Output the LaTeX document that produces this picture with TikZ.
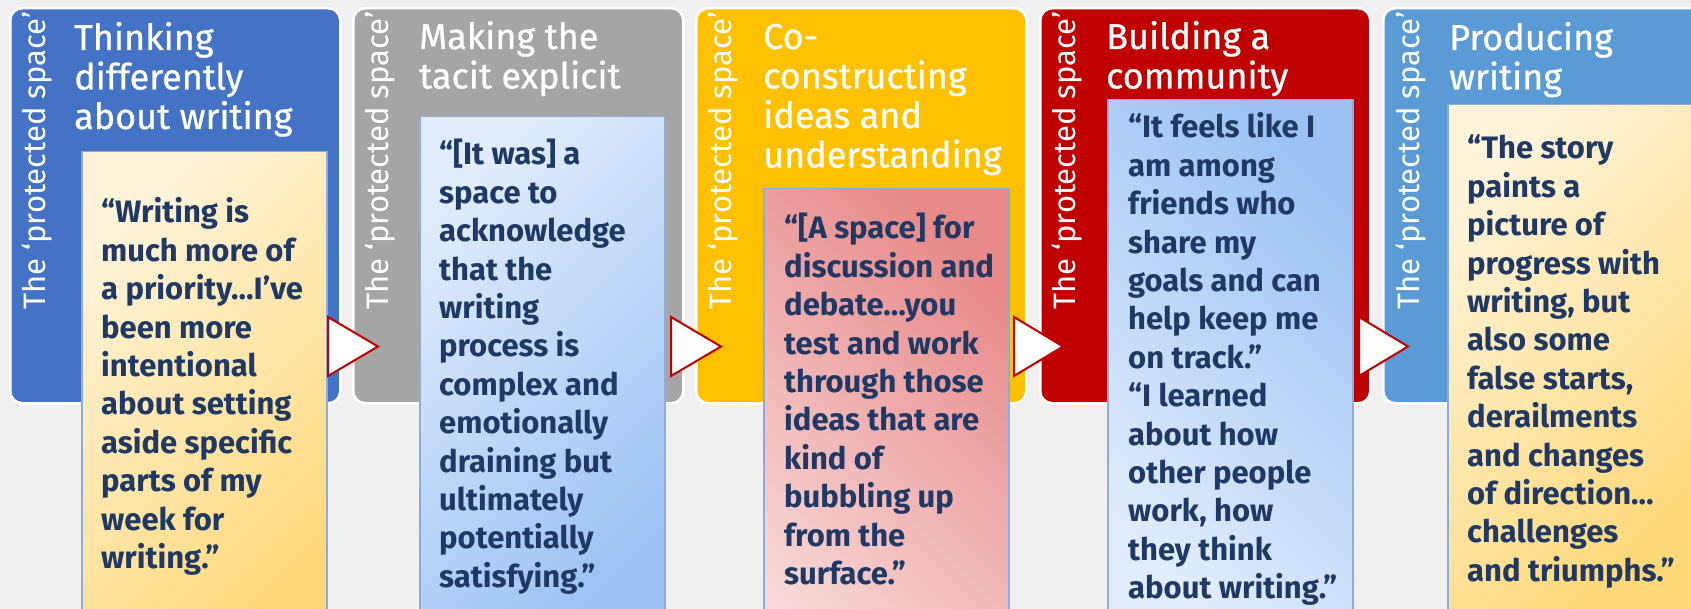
\documentclass[tikz,border=0pt]{standalone}
\usepackage{fontspec}
\setmainfont{Fira Sans}
\newfontfamily\ttlfam{Fira Sans}[FakeBold=0.7]
\definecolor{bgc}{RGB}{240,240,240}
\definecolor{pblue}{RGB}{68,114,196}
\definecolor{pgray}{RGB}{165,165,165}
\definecolor{pgold}{RGB}{255,192,0}
\definecolor{pred}{RGB}{192,0,0}
\definecolor{plblue}{RGB}{91,155,213}
\definecolor{navy}{RGB}{31,56,100}
\definecolor{qborder}{RGB}{143,170,220}
\definecolor{ylight}{RGB}{255,243,217}
\definecolor{ydark}{RGB}{255,216,120}
\definecolor{blight}{RGB}{224,236,252}
\definecolor{bdark}{RGB}{156,194,244}
\definecolor{rlight}{RGB}{248,218,218}
\definecolor{rdark}{RGB}{232,138,138}
\newcommand\ttlf{\ttlfam\fontsize{36}{39.5}\selectfont}
\newcommand\qtf{\bfseries\fontsize{31}{38.4}\selectfont}
\newcommand\vtf{\fontsize{31}{36}\selectfont}
\tikzset{
  panel/.style={draw=white, line width=2.5pt, rounded corners=12pt, anchor=north west, minimum width=330pt, minimum height=395pt, inner sep=0pt},
  qbox/.style={draw=qborder, line width=1.5pt, anchor=north west, minimum width=245pt, minimum height=520pt, inner sep=0pt},
  yshade/.style={top color=ylight, bottom color=ydark, shading angle=45},
  bshade/.style={top color=blight, bottom color=bdark, shading angle=45},
  rshade/.style={top color=rdark, bottom color=rlight, shading angle=-45},
  b2shade/.style={top color=bdark, bottom color=blight, shading angle=-45},
  ttl/.style={anchor=base west, inner sep=0pt, text=white},
  qtext/.style={anchor=base west, inner sep=0pt, text=navy},
  vtext/.style={anchor=base west, inner sep=0pt, text=white, rotate=90},
  tri/.style={draw=pred, fill=white, line width=2pt, line join=miter}
}
\begin{document}
\begin{tikzpicture}[x=1pt,y=-1pt]
\useasboundingbox (0,0) rectangle (1691,609);
\clip (0,0) rectangle (1691,609);
\fill[bgc] (0,0) rectangle (1691,609);
% panels
\node[panel, fill=pblue] (p1) at (9,7) {};
\node[panel, fill=pgray] (p2) at (352,7) {};
\node[panel, fill=pgold] (p3) at (695,7) {};
\node[panel, fill=pred] (p4) at (1039,7) {};
\node[panel, fill=plblue] (p5) at (1382,7) {};
% vertical labels
\node[vtext] (v1) at (45,310) {\vtf The ‘protected space’};
\node[vtext] (v2) at (388,310) {\vtf The ‘protected space’};
\node[vtext] (v3) at (731,310) {\vtf The ‘protected space’};
\node[vtext] (v4) at (1075,310) {\vtf The ‘protected space’};
\node[vtext] (v5) at (1419,310) {\vtf The ‘protected space’};
% titles
\node[ttl] (t1) at (74,50) {\parbox[t]{270pt}{\ttlf Thinking\\differently\\about writing}};
\node[ttl] (t2) at (419,49) {\parbox[t]{270pt}{\ttlf Making the\\tacit explicit}};
\node[ttl] (t3) at (763,49) {\parbox[t]{270pt}{\ttlf Co-\\constructing\\ideas and\\understanding}};
\node[ttl] (t4) at (1106,49) {\parbox[t]{270pt}{\ttlf Building a\\community}};
\node[ttl] (t5) at (1449,50) {\parbox[t]{270pt}{\ttlf Producing\\writing}};
% quote boxes
\node[qbox, yshade] (q1) at (81,151) {};
\node[qbox, bshade] (q2) at (419,116) {};
\node[qbox, rshade] (q3) at (763,188) {};
\node[qbox, b2shade] (q4) at (1107,99) {};
\node[qbox, yshade] (q5) at (1447,104) {};
% quotes
\node[qtext] (x1) at (101,223) {\parbox[t]{240pt}{\qtf “Writing is\\much more of\\a priority…I’ve\\been more\\intentional\\about setting\\aside specific\\parts of my\\week for\\writing.”}};
\node[qtext] (x2) at (439,165) {\parbox[t]{240pt}{\qtf “[It was] a\\space to\\acknowledge\\that the\\writing\\process is\\complex and\\emotionally\\draining but\\ultimately\\potentially\\satisfying.”}};
\node[qtext] (x3) at (784,239) {\parbox[t]{240pt}{\qtf “[A space] for\\discussion and\\debate…you\\test and work\\through those\\ideas that are\\kind of\\bubbling up\\from the\\surface.”}};
\node[qtext] (x4) at (1128,138) {\parbox[t]{240pt}{\qtf “It feels like I\\am among\\friends who\\share my\\goals and can\\help keep me\\on track.”\\“I learned\\about how\\other people\\work, how\\they think\\about writing.”}};
\node[qtext] (x5) at (1467,159) {\parbox[t]{240pt}{\qtf “The story\\paints a\\picture of\\progress with\\writing, but\\also some\\false starts,\\derailments\\and changes\\of direction…\\challenges\\and triumphs.”}};
% arrows
\draw[tri] (328,317) -- (378,346.5) -- (328,376) -- cycle;
\draw[tri] (671,317) -- (721,346.5) -- (671,376) -- cycle;
\draw[tri] (1014,317) -- (1063,346.5) -- (1014,376) -- cycle;
\draw[tri] (1359,317) -- (1408,346.5) -- (1359,376) -- cycle;
\end{tikzpicture}
\end{document}
